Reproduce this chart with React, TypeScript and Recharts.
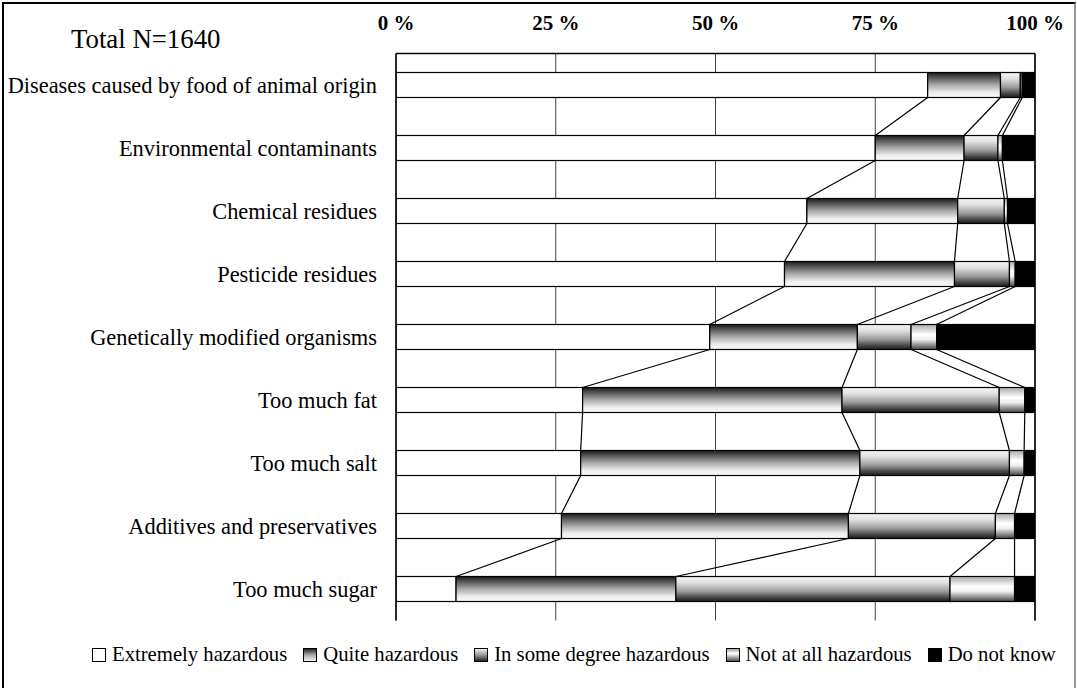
import { BarChart, Bar, XAxis, YAxis, CartesianGrid, ReferenceLine } from "recharts";

const categories = [
  "Diseases caused by food of animal origin",
  "Environmental contaminants",
  "Chemical residues",
  "Pesticide residues",
  "Genetically modified organisms",
  "Too much fat",
  "Too much salt",
  "Additives and preservatives",
  "Too much sugar",
];
const extremely = [83.2, 75.0, 64.3, 60.8, 49.1, 29.2, 28.9, 25.9, 9.4];
const quite = [11.4, 13.9, 23.6, 26.6, 23.1, 40.6, 43.7, 44.9, 34.4];
const someDegree = [3.1, 5.3, 7.3, 8.6, 8.4, 24.6, 23.4, 23.0, 42.9];
const notAtAll = [0.3, 0.7, 0.5, 0.9, 4.0, 4.0, 2.3, 3.0, 10.1];
const doNotKnow = [2.0, 5.1, 4.3, 3.1, 15.4, 1.6, 1.7, 3.2, 3.2];
const seriesNames = [
  "Extremely hazardous",
  "Quite hazardous",
  "In some degree hazardous",
  "Not at all hazardous",
  "Do not know",
];
const xTicks = [0, 25, 50, 75, 100];

const series = [extremely, quite, someDegree, notAtAll, doNotKnow];
const keys = ["e", "q", "s", "n", "d"];
const fills = ["#ffffff", "url(#gQuite)", "url(#gSome)", "url(#gNot)", "#000000"];

const data = categories.map((name, i) => {
  const row: any = { name };
  keys.forEach((k, j) => (row[k] = series[j][i]));
  return row;
});

const W = 1077;
const H = 688;
const MARGIN = { top: 23.5, right: 42, bottom: 67.5, left: 0 };
const X_AXIS_H = 30;
const BAND = (H - MARGIN.top - X_AXIS_H - MARGIN.bottom) / categories.length;
const FONT = "'Liberation Serif', 'Times New Roman', serif";

const cum = (i: number, k: number) => {
  let s = 0;
  for (let j = 0; j <= k; j++) s += series[j][i];
  return s;
};

// each segment also draws the series line down to the same boundary of the next bar
const makeShape = (k: number) => (props: any) => {
  const { x, y, width, height } = props;
  let index = categories.indexOf(props.payload?.name);
  if (index < 0) index = props.index ?? 0;
  const val = series[k][index];
  const s = val > 0 ? width / val : 0;
  const x0 = x - (cum(index, k) - val) * s;
  let line = null;
  if (k < 4 && index < categories.length - 1 && s > 0) {
    const x2 = x0 + cum(index + 1, k) * s;
    line = (
      <line x1={x + width} y1={y + height} x2={x2} y2={y + BAND} stroke="#000" strokeWidth={1.2} />
    );
  }
  return (
    <g>
      <rect x={x} y={y} width={width} height={height} fill={fills[k]} stroke="#000" strokeWidth={1.2} />
      {line}
    </g>
  );
};

const XTick = ({ x, y, payload }: any) => (
  <text x={x} y={y - 22} textAnchor="middle" fontFamily={FONT} fontWeight="bold" fontSize={21} fill="#000">
    {payload.value} %
  </text>
);

const YTick = ({ x, y, payload }: any) => (
  <text x={x} y={y} dy="0.35em" textAnchor="end" fontFamily={FONT} fontSize={22.4} fill="#000">
    {payload.value}
  </text>
);

const Swatch = ({ k }: { k: number }) => {
  const id = `lg${k}`;
  const stops = [
    null,
    [["0", "#1a1a1a"], ["0.5", "#aaa"], ["1", "#fafafa"]],
    [["0", "#f5f5f5"], ["0.5", "#999"], ["1", "#1a1a1a"]],
    [["0", "#999"], ["0.4", "#fff"], ["1", "#444"]],
    null,
  ][k];
  return (
    <svg width={14} height={14} style={{ marginRight: 6, flex: "none" }}>
      {stops && (
        <defs>
          <linearGradient id={id} x1="0" y1="0" x2="0" y2="1">
            {stops.map(([o, c]) => (
              <stop key={o} offset={o} stopColor={c} />
            ))}
          </linearGradient>
        </defs>
      )}
      <rect x={0.5} y={0.5} width={13} height={13} fill={stops ? `url(#${id})` : fills[k]} stroke="#000" />
    </svg>
  );
};

export default function App() {
  return (
    <div style={{ position: "fixed", left: 0, top: 0, width: W, height: H, overflow: "hidden", background: "#fff" }}>
      <div
        style={{
          position: "absolute",
          left: 2,
          top: 2,
          width: 1070,
          height: 720,
          borderLeft: "2px solid #000",
          borderTop: "2px solid #000",
          borderRight: "2px solid #999",
        }}
      />
      <div style={{ position: "absolute", left: 71, top: 24, fontFamily: FONT, fontSize: 26.8, color: "#000" }}>
        Total N=1640
      </div>
      <div style={{ position: "absolute", left: 0, top: 0 }}>
        <BarChart width={W} height={H} data={data} layout="vertical" margin={MARGIN} barSize={25}>
          <defs>
            <linearGradient id="gQuite" x1="0" y1="0" x2="0" y2="1">
              <stop offset="0" stopColor="#1a1a1a" />
              <stop offset="0.2" stopColor="#555" />
              <stop offset="0.5" stopColor="#aaa" />
              <stop offset="0.8" stopColor="#eee" />
              <stop offset="1" stopColor="#fafafa" />
            </linearGradient>
            <linearGradient id="gSome" x1="0" y1="0" x2="0" y2="1">
              <stop offset="0" stopColor="#f5f5f5" />
              <stop offset="0.25" stopColor="#e0e0e0" />
              <stop offset="0.6" stopColor="#999" />
              <stop offset="0.85" stopColor="#444" />
              <stop offset="1" stopColor="#1a1a1a" />
            </linearGradient>
            <linearGradient id="gNot" x1="0" y1="0" x2="0" y2="1">
              <stop offset="0" stopColor="#aaa" />
              <stop offset="0.4" stopColor="#fff" />
              <stop offset="0.6" stopColor="#eee" />
              <stop offset="1" stopColor="#444" />
            </linearGradient>
          </defs>
          <CartesianGrid horizontal={false} stroke="#444" strokeWidth={1} />
          <XAxis
            type="number"
            domain={[0, 100]}
            ticks={xTicks}
            orientation="top"
            height={X_AXIS_H}
            axisLine={{ stroke: "#000", strokeWidth: 1.5 }}
            tickLine={false}
            tickSize={0}
            tick={<XTick />}
            allowDataOverflow
          />
          <XAxis
            xAxisId="bottom"
            type="number"
            domain={[0, 100]}
            orientation="bottom"
            height={0}
            tick={false}
            tickLine={false}
            axisLine={{ stroke: "#000", strokeWidth: 1.5 }}
          />
          <YAxis
            type="category"
            dataKey="name"
            width={396}
            axisLine={{ stroke: "#000", strokeWidth: 1.5 }}
            tickLine={false}
            tickSize={0}
            tickMargin={19}
            tick={<YTick />}
            interval={0}
          />
          <ReferenceLine x={100} stroke="#000" strokeWidth={1.5} />
          {keys.map((k, j) => (
            <Bar
              key={k}
              dataKey={k}
              name={seriesNames[j]}
              stackId="a"
              fill={fills[j]}
              isAnimationActive={false}
              shape={makeShape(j)}
            />
          ))}
        </BarChart>
      </div>
      <div
        style={{
          position: "absolute",
          left: 92,
          top: 643,
          display: "flex",
          alignItems: "center",
          fontFamily: FONT,
          fontSize: 20.7,
          color: "#000",
          whiteSpace: "nowrap",
        }}
      >
        {seriesNames.map((n, k) => (
          <div key={n} style={{ display: "flex", alignItems: "center", marginRight: 16 }}>
            <Swatch k={k} />
            <span>{n}</span>
          </div>
        ))}
      </div>
    </div>
  );
}
